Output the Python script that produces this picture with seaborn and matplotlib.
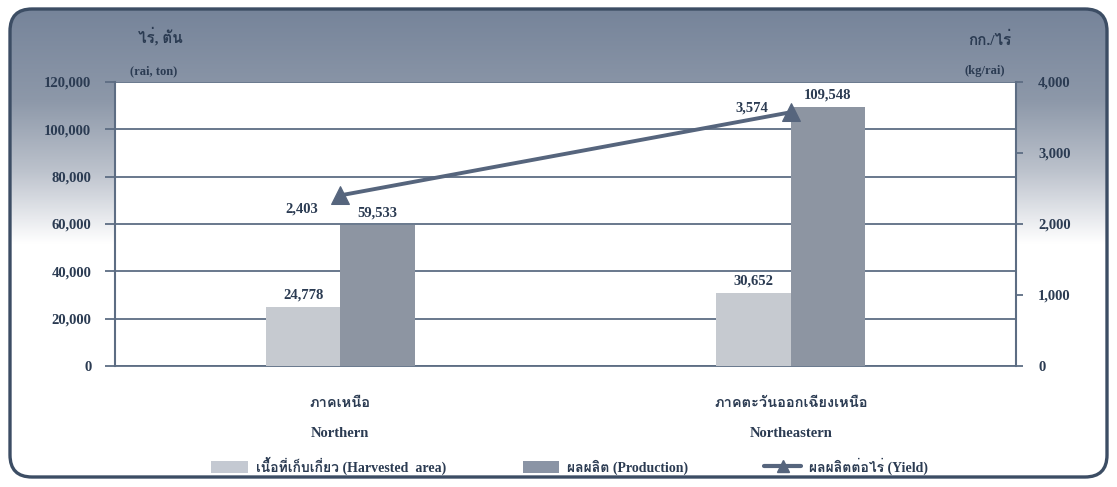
import numpy as np
import pandas as pd
import matplotlib
matplotlib.use("Agg")
import matplotlib.pyplot as plt
from matplotlib import font_manager
from matplotlib.patches import FancyBboxPatch, Patch
from matplotlib.lines import Line2D
from matplotlib.colors import LinearSegmentedColormap
import seaborn as sns

# ---------------- data ----------------
regions_th = ["ภาคเหนือ", "ภาคตะวันออกเฉียงเหนือ"]
regions_en = ["Northern", "Northeastern"]
harvested_area = [24778, 30652]
production = [59533, 109548]
yield_kg = [2403, 3574]
left_ticks = [0, 20000, 40000, 60000, 80000, 100000, 120000]
right_ticks = [0, 1000, 2000, 3000, 4000]
series_names = ["เนื้อที่เก็บเกี่ยว (Harvested  area)", "ผลผลิต (Production)", "ผลผลิตต่อไร่ (Yield)"]

# ---------------- fonts ----------------
sns.set_theme(style="white")


def find_thai_font():
    try:
        from fontTools.ttLib import TTFont
    except Exception:
        return None
    seen = set()
    for f in font_manager.fontManager.ttflist:
        if f.name in seen:
            continue
        try:
            tt = TTFont(f.fname, fontNumber=0, lazy=True)
            cmap = tt.getBestCmap()
            if cmap and 0x0E20 in cmap and 0x0E40 in cmap:
                return f.name
        except Exception:
            pass
        seen.add(f.name)
    return None


thai = find_thai_font()
fam = ["Liberation Serif"] + ([thai] if thai else []) + ["DejaVu Serif"]
plt.rcParams["font.family"] = fam
plt.rcParams["font.weight"] = "bold"

TXT = "#2b3b52"
LIGHT = "#c4c9d2"
DARK = "#8a94a5"
LINEC = "#56657d"
GRID = "#5d6d83"

W, H = 1117, 487
fig = plt.figure(figsize=(W / 100, H / 100), dpi=100)

# ---------------- background frame ----------------
bg = fig.add_axes([0, 0, 1, 1], zorder=0)
bg.set_xlim(0, W)
bg.set_ylim(H, 0)
bg.axis("off")
frame = FancyBboxPatch((10, 9), W - 20, H - 19,
                       boxstyle="round,pad=0,rounding_size=22",
                       facecolor="none", edgecolor="#3c4d64", linewidth=2.4, zorder=3)
bg.add_patch(frame)
cmap = LinearSegmentedColormap.from_list(
    "g", [(0.0, "#76849a"), (0.35, "#8d98a9"), (0.62, "#bcc2cc"), (0.8, "#e7e9ed"), (0.9, "#ffffff"), (1.0, "#ffffff")])
grad = np.linspace(0, 1, 487)[:, None] * np.ones((1, 10))
im = bg.imshow(grad, cmap=cmap, aspect="auto", extent=[10, W - 10, 270, 9], zorder=1)
im.set_clip_path(frame)
white = FancyBboxPatch((10, 9), W - 20, H - 19,
                       boxstyle="round,pad=0,rounding_size=22",
                       facecolor="white", edgecolor="none", zorder=0)
bg.add_patch(white)

# ---------------- main axes ----------------
ax = fig.add_axes([115 / W, 121 / H, 901 / W, 284 / H], zorder=2)
ax.set_facecolor("white")

df = pd.DataFrame({
    "region": regions_en * 2,
    "series": [series_names[0]] * 2 + [series_names[1]] * 2,
    "value": harvested_area + production,
})
sns.barplot(data=df, x="region", y="value", hue="series", order=regions_en,
            palette=[LIGHT, DARK], width=0.33, ax=ax, legend=False,
            edgecolor="none", zorder=3)
for c in ax.containers:
    ax.bar_label(c, labels=[f"{v:,.0f}" for v in c.datavalues], padding=4,
                 fontsize=10.5, fontweight="bold", color=TXT)

ax.set_xlim(-0.5, 1.5)
ax.set_ylim(0, 120000)
ax.set_yticks(left_ticks)
ax.set_yticklabels([f"{t:,}" for t in left_ticks])
ax.yaxis.grid(True, color=GRID, linewidth=1.3)
ax.xaxis.grid(False)
ax.set_axisbelow(True)
ax.set_xticks([0, 1])
ax.set_xticklabels([f"{t}\n\n{e}" for t, e in zip(regions_th, regions_en)], linespacing=1.2)
ax.set_xticks([-0.5, 0.5, 1.5], minor=True)
ax.tick_params(axis="x", which="major", length=0, pad=22, labelsize=10.5, labelcolor=TXT)
ax.tick_params(axis="x", which="minor", length=6, width=1.5, color=GRID, direction="out")
ax.tick_params(axis="y", length=7, width=1.3, color=GRID, direction="out", pad=10,
               labelsize=10.5, labelcolor=TXT, left=True)
ax.set_xlabel("")
ax.set_ylabel("")
for s in ["top", "right"]:
    ax.spines[s].set_visible(False)
ax.spines["left"].set_color(GRID)
ax.spines["left"].set_linewidth(1.5)
ax.spines["bottom"].set_color(GRID)
ax.spines["bottom"].set_linewidth(1.3)

# ---------------- yield line ----------------
ax2 = ax.twinx()
ydf = pd.DataFrame({"pos": [0, 1], "yield": yield_kg})
sns.lineplot(data=ydf, x="pos", y="yield", ax=ax2, color=LINEC, linewidth=2.8,
             marker="^", markersize=13, markeredgecolor=LINEC, zorder=5)
ax2.set_ylim(0, 4000)
ax2.set_yticks(right_ticks)
ax2.set_yticklabels([f"{t:,}" for t in right_ticks])
ax2.set_xlim(-0.5, 1.5)
ax2.set_ylabel("")
ax2.set_xlabel("")
ax2.grid(False)
ax2.tick_params(axis="y", length=5, width=1.3, color=GRID, direction="out", pad=11,
                labelsize=10.5, labelcolor=TXT, right=True)
for s in ["top", "left", "bottom"]:
    ax2.spines[s].set_visible(False)
ax2.spines["right"].set_color(GRID)
ax2.spines["right"].set_linewidth(1.5)
offsets = [(-16, -10), (-16, 3)]
for x, v, off in zip([0, 1], yield_kg, offsets):
    ax2.annotate(f"{v:,}", (x, v), xytext=off, textcoords="offset points",
                 ha="right", va="center", fontsize=10.5, fontweight="bold", color=TXT)

# ---------------- header texts ----------------
fig.text(160 / W, 1 - 36 / H, "ไร่, ตัน", ha="center", va="center", fontsize=11, color=TXT)
fig.text(154 / W, 1 - 71 / H, "(rai, ton)", ha="center", va="center", fontsize=9, color=TXT)
fig.text(990 / W, 1 - 40 / H, "กก./ไร่", ha="center", va="center", fontsize=11, color=TXT)
fig.text(985 / W, 1 - 71 / H, "(kg/rai)", ha="center", va="center", fontsize=9, color=TXT)

# ---------------- legend ----------------
handles = [Patch(facecolor=LIGHT, edgecolor="none"),
           Patch(facecolor=DARK, edgecolor="none"),
           Line2D([0], [0], color=LINEC, linewidth=3, marker="^", markersize=9)]
leg = fig.legend(handles, series_names, loc="center", bbox_to_anchor=(0.51, 1 - 466 / H),
                 ncol=3, frameon=False, fontsize=10, handlelength=2.6, handleheight=1.0,
                 columnspacing=5.5, handletextpad=0.6)
for t in leg.get_texts():
    t.set_color(TXT)

fig.savefig("out.png", dpi=100)
